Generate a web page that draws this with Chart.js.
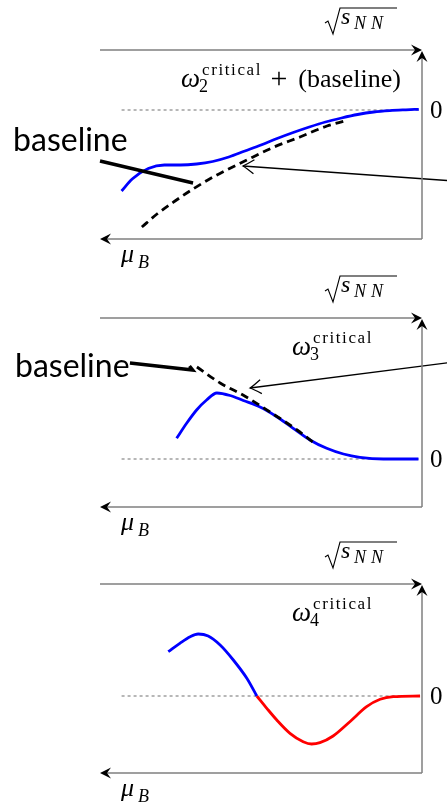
<!DOCTYPE html>
<html>
<head>
<meta charset="utf-8">
<script src="https://cdn.jsdelivr.net/npm/chart.js@4.4.1/dist/chart.umd.min.js"></script>
<style>
  html, body { margin: 0; padding: 0; background: #fff; }
  #wrap { position: relative; width: 447px; height: 807px; overflow: hidden; }
  canvas { position: absolute; left: 0; }
</style>
</head>
<body>
<div id="wrap">
  <canvas id="panel-w2" width="447" height="270" style="top:0px"></canvas>
  <canvas id="panel-w3" width="447" height="270" style="top:270px"></canvas>
  <canvas id="panel-w4" width="447" height="267" style="top:540px"></canvas>
</div>
<script>
// x runs along sqrt(s_NN) (0 = high mu_B side, 10 = high energy), y is the cumulant value

// dotted zero reference, same for all three panels
const zeroX = [0.67, 9.9];
const zeroY = [0, 0];

// panel 1: omega_2 critical + baseline
const w2X = [0.67, 1.0, 1.5, 2.0, 2.5, 3.0, 3.5, 4.0, 4.5, 5.0, 5.5, 6.0, 6.5, 7.0, 7.5, 8.0, 8.5, 9.0, 9.5, 9.9];
const w2Y = [-8.1, -6.9, -5.85, -5.5, -5.5, -5.4, -5.15, -4.7, -4.1, -3.5, -2.85, -2.25, -1.7, -1.2, -0.8, -0.45, -0.2, -0.06, 0.02, 0.07];
const base2X = [1.30, 1.77, 2.33, 2.89, 3.57, 4.56, 5.37, 6.21, 7.05, 7.6];
const base2Y = [-11.7, -10.4, -9.1, -7.9, -6.6, -5.0, -3.75, -2.7, -1.6, -1.1];
const ptr2X = [0.0, 2.89];
const ptr2Y = [-5.1, -7.3];
const arrow2X = [4.44, 11.0];
const arrow2Y = [-5.6, -7.1];

// panel 2: omega_3 critical
const w3X = [2.38, 2.69, 3.0, 3.31, 3.63, 4.04, 4.45, 4.97, 5.49, 6.0, 6.52, 7.04, 7.56, 8.07, 8.80, 9.89];
const w3Y = [2.07, 3.57, 4.9, 5.9, 6.6, 6.35, 5.85, 5.2, 4.23, 3.07, 1.9, 1.07, 0.5, 0.17, 0.0, 0.0];
const base3X = [3.01, 3.73, 4.44, 5.28, 6.12, 6.61];
const base3Y = [9.2, 7.6, 6.4, 4.7, 2.9, 1.7];
const ptr3X = [0.93, 2.88, 2.78];
const ptr3Y = [9.6, 8.9, 9.3];
const arrow3X = [4.66, 11.0];
const arrow3Y = [7.1, 9.7];

// panel 3: omega_4 critical (positive part blue, negative part red)
const w4PosX = [2.12, 2.48, 2.80, 3.05, 3.36, 3.73, 4.14, 4.56, 4.87];
const w4PosY = [4.43, 5.27, 5.93, 6.2, 6.0, 5.1, 3.6, 1.77, 0.0];
const w4NegX = [4.87, 5.18, 5.49, 5.90, 6.31, 6.57, 6.83, 7.24, 7.76, 8.28, 8.70, 9.11, 9.94];
const w4NegY = [0.0, -1.23, -2.4, -3.73, -4.57, -4.8, -4.67, -4.0, -2.57, -1.07, -0.33, -0.07, 0.0];

const serif = '"Liberation Serif", "DejaVu Serif", serif';
const sans = 'Lato, "Open Sans", sans-serif';

function pts(xs, ys) {
  return xs.map((x, i) => ({ x: x, y: ys[i] }));
}

function zeroLine() {
  return {
    data: pts(zeroX, zeroY), borderColor: '#707070', borderWidth: 1,
    borderDash: [3, 3], tension: 0, order: 9
  };
}

function curve(xs, ys, color) {
  return {
    data: pts(xs, ys), borderColor: color, borderWidth: 2.8,
    cubicInterpolationMode: 'monotone', order: 3
  };
}

function dashed(xs, ys) {
  return {
    data: pts(xs, ys), borderColor: '#000', borderWidth: 2.8,
    borderDash: [8, 5], cubicInterpolationMode: 'monotone', order: 2
  };
}

function pointer(xs, ys) {
  return { data: pts(xs, ys), borderColor: '#000', borderWidth: 3.4, tension: 0, order: 1 };
}

function arrowLine(xs, ys) {
  return { data: pts(xs, ys), borderColor: '#000', borderWidth: 1.3, tension: 0, order: 1, arrowTip: true };
}

// filled latex-style head
function stealth(ctx, x, y, angle) {
  ctx.save();
  ctx.translate(x, y);
  ctx.rotate(angle);
  ctx.beginPath();
  ctx.moveTo(0, 0);
  ctx.lineTo(-11, -5.5);
  ctx.lineTo(-7, 0);
  ctx.lineTo(-11, 5.5);
  ctx.closePath();
  ctx.fillStyle = '#000';
  ctx.fill();
  ctx.restore();
}

// draw text char by char with extra spacing (CM glyphs run wider than Times)
function spaced(ctx, text, x, y, gap) {
  for (const ch of text) {
    ctx.fillText(ch, x, y);
    x += ctx.measureText(ch).width + gap;
  }
  return x - gap;
}

function drawSqrt(ctx, xr, top) {
  ctx.save();
  ctx.strokeStyle = '#000';
  ctx.lineWidth = 1.1;
  ctx.beginPath();
  ctx.moveTo(xr, top - 27);
  ctx.lineTo(xr + 3, top - 29);
  ctx.lineTo(xr + 8, top - 16);
  ctx.lineTo(xr + 15, top - 42);
  ctx.lineTo(xr + 72, top - 42);
  ctx.stroke();
  ctx.fillStyle = '#000';
  ctx.textBaseline = 'alphabetic';
  ctx.font = 'italic 24px ' + serif;
  ctx.fillText('s', xr + 16, top - 26);
  ctx.font = 'italic 18px ' + serif;
  spaced(ctx, 'NN', xr + 29, top - 21, 5);
  ctx.restore();
}

function drawOmega(ctx, x, y, idx, extra) {
  ctx.save();
  ctx.fillStyle = '#000';
  ctx.textBaseline = 'alphabetic';
  ctx.font = 'italic 27px ' + serif;
  ctx.fillText('ω', x, y);
  const w = ctx.measureText('ω').width;
  ctx.font = '17px ' + serif;
  const end = spaced(ctx, 'critical', x + w + 2, y - 12, 1.6);
  ctx.font = '18px ' + serif;
  ctx.fillText(idx, x + w - 1, y + 5);
  if (extra) {
    ctx.font = '30px ' + serif;
    ctx.fillText('+', end + 10, y + 1);
    const pw = ctx.measureText('+').width;
    ctx.font = '26px ' + serif;
    ctx.fillText(extra, end + 10 + pw + 11, y);
  }
  ctx.restore();
}

const schematic = {
  id: 'schematic',
  afterDatasetsDraw(chart, args, opts) {
    const ctx = chart.ctx;
    const a = chart.chartArea;
    const xs = chart.scales.x, ys = chart.scales.y;

    // axis frame: sqrt(s_NN) on top, mu_B at the bottom, value axis on the right
    ctx.save();
    ctx.strokeStyle = '#808080';
    ctx.lineWidth = 1.5;
    ctx.beginPath();
    ctx.moveTo(a.left, a.top);
    ctx.lineTo(a.right - 4, a.top);
    ctx.moveTo(a.right, a.bottom);
    ctx.lineTo(a.right, a.top + 6);
    ctx.moveTo(a.right, a.bottom);
    ctx.lineTo(a.left + 4, a.bottom);
    ctx.stroke();
    ctx.restore();
    stealth(ctx, a.right, a.top, 0);
    stealth(ctx, a.right, a.top + 1, -Math.PI / 2);
    stealth(ctx, a.left, a.bottom, Math.PI);

    // open heads on the annotation arrows
    chart.data.datasets.forEach((ds, i) => {
      if (!ds.arrowTip) return;
      const p = chart.getDatasetMeta(i).data;
      const tip = p[0], tail = p[1];
      const ang = Math.atan2(tip.y - tail.y, tip.x - tail.x);
      ctx.save();
      ctx.translate(tip.x, tip.y);
      ctx.rotate(ang);
      ctx.strokeStyle = '#000';
      ctx.lineWidth = 1.3;
      ctx.beginPath();
      ctx.moveTo(-11, -7);
      ctx.quadraticCurveTo(-3, -1.5, 0, 0);
      ctx.quadraticCurveTo(-3, 1.5, -11, 7);
      ctx.stroke();
      ctx.restore();
    });

    drawSqrt(ctx, a.right - 97, a.top);

    ctx.save();
    ctx.fillStyle = '#000';
    ctx.font = 'italic 26px ' + serif;
    ctx.fillText('μ', a.left + 21, a.bottom + 23);
    ctx.font = 'italic 18px ' + serif;
    ctx.fillText('B', a.left + 38, a.bottom + 29);
    ctx.font = '25px ' + serif;
    ctx.textBaseline = 'middle';
    ctx.fillText('0', a.right + 8, ys.getPixelForValue(0) + 1);
    ctx.restore();

    drawOmega(ctx, opts.omegaX, a.top + 37, opts.index, opts.extra);

    if (opts.baselineAt) {
      ctx.save();
      ctx.fillStyle = '#000';
      ctx.font = '32px ' + sans;
      ctx.textBaseline = 'alphabetic';
      ctx.fillText('baseline', xs.getPixelForValue(opts.baselineAt[0]), ys.getPixelForValue(opts.baselineAt[1]));
      ctx.restore();
    }
  }
};

function makePanel(id, datasets, yMin, yMax, pad, labelOpts) {
  return new Chart(document.getElementById(id), {
    type: 'line',
    data: { datasets: datasets.map(d => Object.assign({ pointRadius: 0, fill: false, clip: false }, d)) },
    options: {
      responsive: false,
      animation: false,
      events: [],
      layout: { padding: pad },
      plugins: { legend: { display: false }, tooltip: { enabled: false }, schematic: labelOpts },
      scales: {
        x: { type: 'linear', min: 0, max: 10, display: false },
        y: { type: 'linear', min: yMin, max: yMax, display: false }
      }
    },
    plugins: [schematic]
  });
}

makePanel('panel-w2', [
  zeroLine(),
  curve(w2X, w2Y, '#0000ff'),
  dashed(base2X, base2Y),
  pointer(ptr2X, ptr2Y),
  arrowLine(arrow2X, arrow2Y)
], -12.9, 6.0, { left: 100, right: 25, top: 50, bottom: 31 },
  { omegaX: 181, index: '2', extra: '(baseline)', baselineAt: [-2.7, -4.1] });

makePanel('panel-w3', [
  zeroLine(),
  curve(w3X, w3Y, '#0000ff'),
  dashed(base3X, base3Y),
  pointer(ptr3X, ptr3Y),
  arrowLine(arrow3X, arrow3Y)
], -4.8, 14.1, { left: 100, right: 25, top: 48, bottom: 33 },
  { omegaX: 292, index: '3', extra: null, baselineAt: [-2.64, 8.2] });

makePanel('panel-w4', [
  zeroLine(),
  curve(w4PosX, w4PosY, '#0000ff'),
  curve(w4NegX, w4NegY, '#ff0000')
], -7.7, 11.2, { left: 100, right: 25, top: 44, bottom: 34 },
  { omegaX: 292, index: '4', extra: null, baselineAt: null });
</script>
</body>
</html>
